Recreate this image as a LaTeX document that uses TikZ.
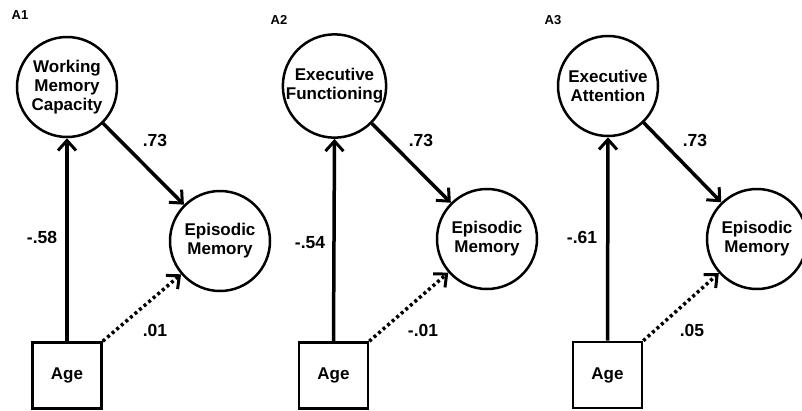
\documentclass[tikz,border=0pt]{standalone}
\usepackage{fontspec}
\setmainfont{Liberation Sans}
\usetikzlibrary{arrows.meta}
\tikzset{
  lat/.style={circle,draw,line width=2.5pt,minimum size=100pt,inner sep=0pt,align=center,font=\fontsize{17}{19}\selectfont\bfseries},
  obs/.style={rectangle,draw,line width=2.6pt,minimum width=69pt,minimum height=66pt,inner sep=0pt,font=\fontsize{17}{19}\selectfont\bfseries},
  path/.style={line width=3.5pt,-{Straight Barb[length=10pt,width=18pt,line width=3pt]}},
  ns/.style={line width=3.5pt,dash pattern=on 3pt off 3pt,-{Straight Barb[length=10pt,width=18pt,line width=3pt]}},
  coef/.style={font=\fontsize{17.5}{19}\selectfont\bfseries,inner sep=0pt},
  panel/.style={font=\fontsize{13}{14}\selectfont\bfseries,inner sep=0pt}
}
\begin{document}
\begin{tikzpicture}[x=1pt,y=-1pt]
\useasboundingbox (0,0) rectangle (802,410);
% A1
\node[panel] (p1) at (20,15) {A1};
\node[lat] (wm1) at (67,87) {Working\\Memory\\Capacity};
\node[lat] (em1) at (220,241) {Episodic\\Memory};
\node[obs] (age1) at (67,375.5) {Age};
\draw[path] (age1.north) -- (wm1.south);
\draw[path] (wm1) -- (em1);
\draw[ns] (age1.north east) -- (em1);
\node[coef] (c11) at (42,237) {-.58};
\node[coef] (c12) at (155,140) {.73};
\node[coef] (c13) at (155,330) {.01};
% A2
\node[panel] (p2) at (279,20) {A2};
\node[lat] (wm2) at (334.5,86) {Executive\\Functioning};
\node[lat] (em2) at (487,239) {Episodic\\Memory};
\node[obs] (age2) at (333.5,375.5) {Age};
\draw[path] (age2.north) -- (wm2.south);
\draw[path] (wm2) -- (em2);
\draw[ns] (age2.north east) -- (em2);
\node[coef] (c21) at (310,243) {-.54};
\node[coef] (c22) at (421,140) {.73};
\node[coef] (c23) at (423,330) {-.01};
% A3
\node[panel] (p3) at (553,20) {A3};
\node[lat] (wm3) at (608,86) {Executive\\Attention};
\node[lat] (em3) at (757,239) {Episodic\\Memory};
\node[obs] (age3) at (607.5,375) {Age};
\draw[path] (age3.north) -- (wm3.south);
\draw[path] (wm3) -- (em3);
\draw[ns] (age3.north east) -- (em3);
\node[coef] (c31) at (582,237) {-.61};
\node[coef] (c32) at (695,140) {.73};
\node[coef] (c33) at (692,330) {.05};
\end{tikzpicture}
\end{document}
